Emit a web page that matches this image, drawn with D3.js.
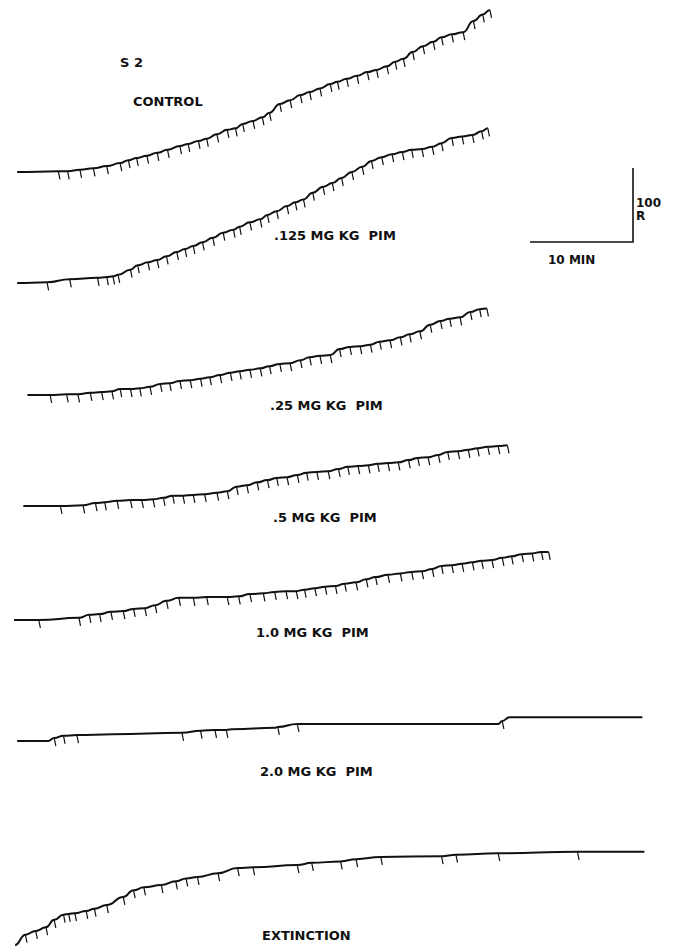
<!DOCTYPE html>
<html>
<head>
<meta charset="utf-8">
<script src="https://cdn.jsdelivr.net/npm/d3@7"></script>
<style>
  body { margin: 0; background: #fff; }
  text { font-family: "DejaVu Sans", sans-serif; font-weight: bold; fill: #111; }
</style>
</head>
<body>
<svg width="676" height="950"></svg>
<script>
// cumulative records, time in minutes, responses cumulative at each pip
var labels = ["CONTROL", ".125 MG KG  PIM", ".25 MG KG  PIM", ".5 MG KG  PIM", "1.0 MG KG  PIM", "2.0 MG KG  PIM", "EXTINCTION"];

var controlT = [0.5, 4.5, 5.4, 6.6, 7.9, 9.2, 10.5, 11.3, 12.1, 13.1, 14.1, 15.1, 16.3, 17.1, 18.1, 18.9, 19.9, 20.9, 21.7, 22.4, 23.4, 24.3, 25.0, 26.0, 27.0, 28.0, 28.9, 29.9, 30.9, 31.6, 32.5, 33.5, 34.5, 35.4, 36.4, 37.2, 38.0, 38.9, 39.9, 40.9, 41.7, 42.7, 43.8, 44.8, 45.7, 46.4];
var controlR = [0, 1, 1, 3, 5, 8, 12, 16, 19, 22, 26, 30, 35, 38, 42, 45, 51, 57, 59, 65, 69, 74, 80, 92, 97, 104, 108, 113, 119, 122, 126, 130, 135, 138, 143, 149, 153, 162, 170, 176, 182, 186, 189, 204, 213, 219];

var d125T = [0.5, 3.4, 5.6, 8.3, 9.2, 9.8, 10.3, 11.5, 12.2, 13.2, 14.1, 15.0, 16.0, 16.8, 17.6, 18.5, 19.5, 20.5, 21.5, 22.1, 23.1, 24.1, 24.8, 25.7, 26.7, 27.5, 28.3, 29.2, 30.2, 31.1, 32.0, 33.0, 34.0, 34.9, 35.9, 36.9, 37.9, 38.8, 39.8, 40.8, 41.7, 42.7, 43.7, 44.7, 45.6, 46.2];
var d125R = [0, 1, 5, 7, 8, 9, 11, 18, 24, 28, 31, 36, 42, 46, 50, 55, 61, 68, 72, 76, 82, 86, 92, 97, 104, 109, 113, 122, 130, 135, 142, 150, 157, 165, 170, 174, 177, 180, 181, 184, 189, 196, 198, 200, 205, 209];

var d25T = [1.5, 3.7, 5.3, 6.4, 7.6, 8.7, 9.7, 10.5, 11.5, 12.4, 13.4, 14.4, 15.3, 16.3, 17.3, 18.3, 19.2, 20.2, 21.2, 22.1, 23.1, 24.1, 25.0, 26.0, 27.0, 28.0, 28.9, 29.9, 30.9, 31.8, 32.8, 33.8, 34.8, 35.7, 36.7, 37.7, 38.6, 39.6, 40.6, 41.6, 42.5, 43.5, 44.5, 45.4, 46.1];
var d25R = [0, 0, 1, 1, 3, 4, 5, 8, 8, 9, 11, 15, 16, 19, 20, 22, 24, 27, 30, 32, 34, 36, 39, 42, 43, 47, 51, 53, 54, 62, 65, 66, 68, 72, 74, 78, 82, 86, 95, 100, 103, 105, 112, 116, 117];

var d5T = [1.1, 4.7, 6.9, 8.1, 9.0, 10.2, 11.5, 12.6, 13.7, 14.7, 15.6, 16.6, 17.6, 18.7, 19.9, 20.9, 21.8, 22.8, 23.8, 24.8, 25.7, 26.7, 27.7, 28.6, 29.6, 30.7, 31.7, 32.6, 33.6, 34.6, 35.5, 36.5, 37.5, 38.5, 39.4, 40.4, 41.4, 42.3, 43.3, 44.3, 45.2, 46.2, 47.2, 48.1];
var d5R = [0, 0, 1, 4, 5, 7, 8, 8, 9, 11, 14, 14, 15, 16, 18, 20, 26, 28, 32, 35, 38, 39, 42, 45, 46, 47, 50, 53, 54, 55, 57, 58, 59, 62, 65, 66, 69, 73, 74, 76, 78, 80, 81, 82];

var d10T = [0.2, 2.6, 6.5, 7.5, 8.5, 9.6, 10.8, 11.8, 12.9, 13.9, 15.0, 16.2, 17.6, 18.9, 20.9, 22.0, 23.1, 24.4, 25.5, 26.6, 27.6, 28.4, 29.4, 30.4, 31.4, 32.3, 33.4, 34.4, 35.3, 36.5, 37.7, 38.8, 39.8, 40.8, 41.7, 42.7, 43.7, 44.7, 45.6, 46.6, 47.6, 48.5, 49.5, 50.5, 51.4, 52.1];
var d10R = [0, 0, 3, 7, 8, 11, 12, 15, 16, 20, 26, 30, 30, 31, 31, 32, 35, 36, 38, 39, 39, 41, 43, 45, 46, 49, 51, 55, 58, 61, 63, 65, 66, 69, 73, 74, 76, 78, 80, 81, 84, 86, 89, 90, 92, 92];

var d20T = [0.5, 3.5, 4.1, 5.0, 6.3, 9.8, 16.5, 18.3, 19.7, 20.8, 21.4, 25.6, 25.8, 27.7, 47.2, 47.6, 48.3, 61.2];
var d20R = [0, 0, 4, 7, 8, 9, 11, 14, 15, 15, 16, 18, 19, 23, 23, 27, 32, 32];
var d20Pips = [4.1, 5.0, 6.3, 16.5, 18.3, 19.7, 20.8, 25.8, 27.7, 47.6];

var extT = [0.3, 1.3, 2.3, 3.3, 4.1, 5.0, 5.5, 6.1, 7.2, 8.0, 9.2, 10.8, 11.8, 12.8, 14.5, 15.9, 16.9, 18.0, 20.0, 21.9, 23.4, 27.7, 29.1, 31.9, 33.4, 35.8, 41.7, 43.1, 47.2, 54.9, 61.4];
var extR = [0, 14, 19, 24, 34, 41, 42, 43, 46, 49, 54, 65, 74, 78, 81, 86, 90, 92, 97, 104, 105, 108, 111, 113, 116, 119, 120, 122, 124, 126, 126];

var records = [
    { T: controlT, R: controlR, pips: controlT.slice(1) },
    { T: d125T, R: d125R, pips: d125T.slice(1) },
    { T: d25T, R: d25R, pips: d25T.slice(1) },
    { T: d5T, R: d5R, pips: d5T.slice(1) },
    { T: d10T, R: d10R, pips: d10T.slice(1) },
    { T: d20T, R: d20R, pips: d20Pips },
    { T: extT, R: extR, pips: extT.slice(1, -1) }
];

// layout
var rowBase = [172, 283, 395, 506, 620, 741, 945];
var labelPos = [[133, 106], [274, 240], [270, 410], [273, 522], [256, 637], [260, 776], [262, 940]];

var svg = d3.select("svg");

var x = d3.scaleLinear().domain([0, 60]).range([12, 630]);
var pxPerR = 0.74;

var line = d3.line()
    .x(function(d) { return x(d[0]); })
    .y(function(d) { return d[1]; })
    .curve(d3.curveBumpX);

records.forEach(function(rec, i) {
    var y = d3.scaleLinear().domain([0, 100]).range([rowBase[i], rowBase[i] - 100 * pxPerR]);
    var pts = rec.T.map(function(t, k) { return [t, y(rec.R[k])]; });
    var g = svg.append("g");

    g.append("path")
        .datum(pts)
        .attr("fill", "none")
        .attr("stroke", "#111")
        .attr("stroke-width", 2)
        .attr("stroke-linejoin", "round")
        .attr("d", line);

    g.selectAll("line.pip")
        .data(rec.pips)
        .enter().append("line")
        .attr("class", "pip")
        .attr("x1", function(t) { return x(t); })
        .attr("y1", function(t) { return y(rec.R[rec.T.indexOf(t)]); })
        .attr("x2", function(t) { return x(t) + 1.6; })
        .attr("y2", function(t) { return y(rec.R[rec.T.indexOf(t)]) + 8; })
        .attr("stroke", "#111")
        .attr("stroke-width", 1.2);

    svg.append("text")
        .attr("x", labelPos[i][0])
        .attr("y", labelPos[i][1])
        .attr("font-size", 13)
        .style("white-space", "pre")
        .text(labels[i]);
});

svg.append("text")
    .attr("x", 120).attr("y", 67)
    .attr("font-size", 13)
    .style("white-space", "pre")
    .text("S 2");

// scale bar: 10 min by 100 responses
var cornerX = 633, cornerY = 242;
var barW = x(10) - x(0), barH = 100 * pxPerR;
svg.append("path")
    .attr("d", "M" + (cornerX - barW) + "," + cornerY + "H" + cornerX + "V" + (cornerY - barH))
    .attr("fill", "none")
    .attr("stroke", "#111")
    .attr("stroke-width", 1.6);

svg.append("text").attr("x", cornerX + 3).attr("y", 207).attr("font-size", 12).text("100");
svg.append("text").attr("x", cornerX + 3).attr("y", 220).attr("font-size", 12).text("R");
svg.append("text").attr("x", 548).attr("y", 264).attr("font-size", 12).text("10 MIN");
</script>
</body>
</html>
